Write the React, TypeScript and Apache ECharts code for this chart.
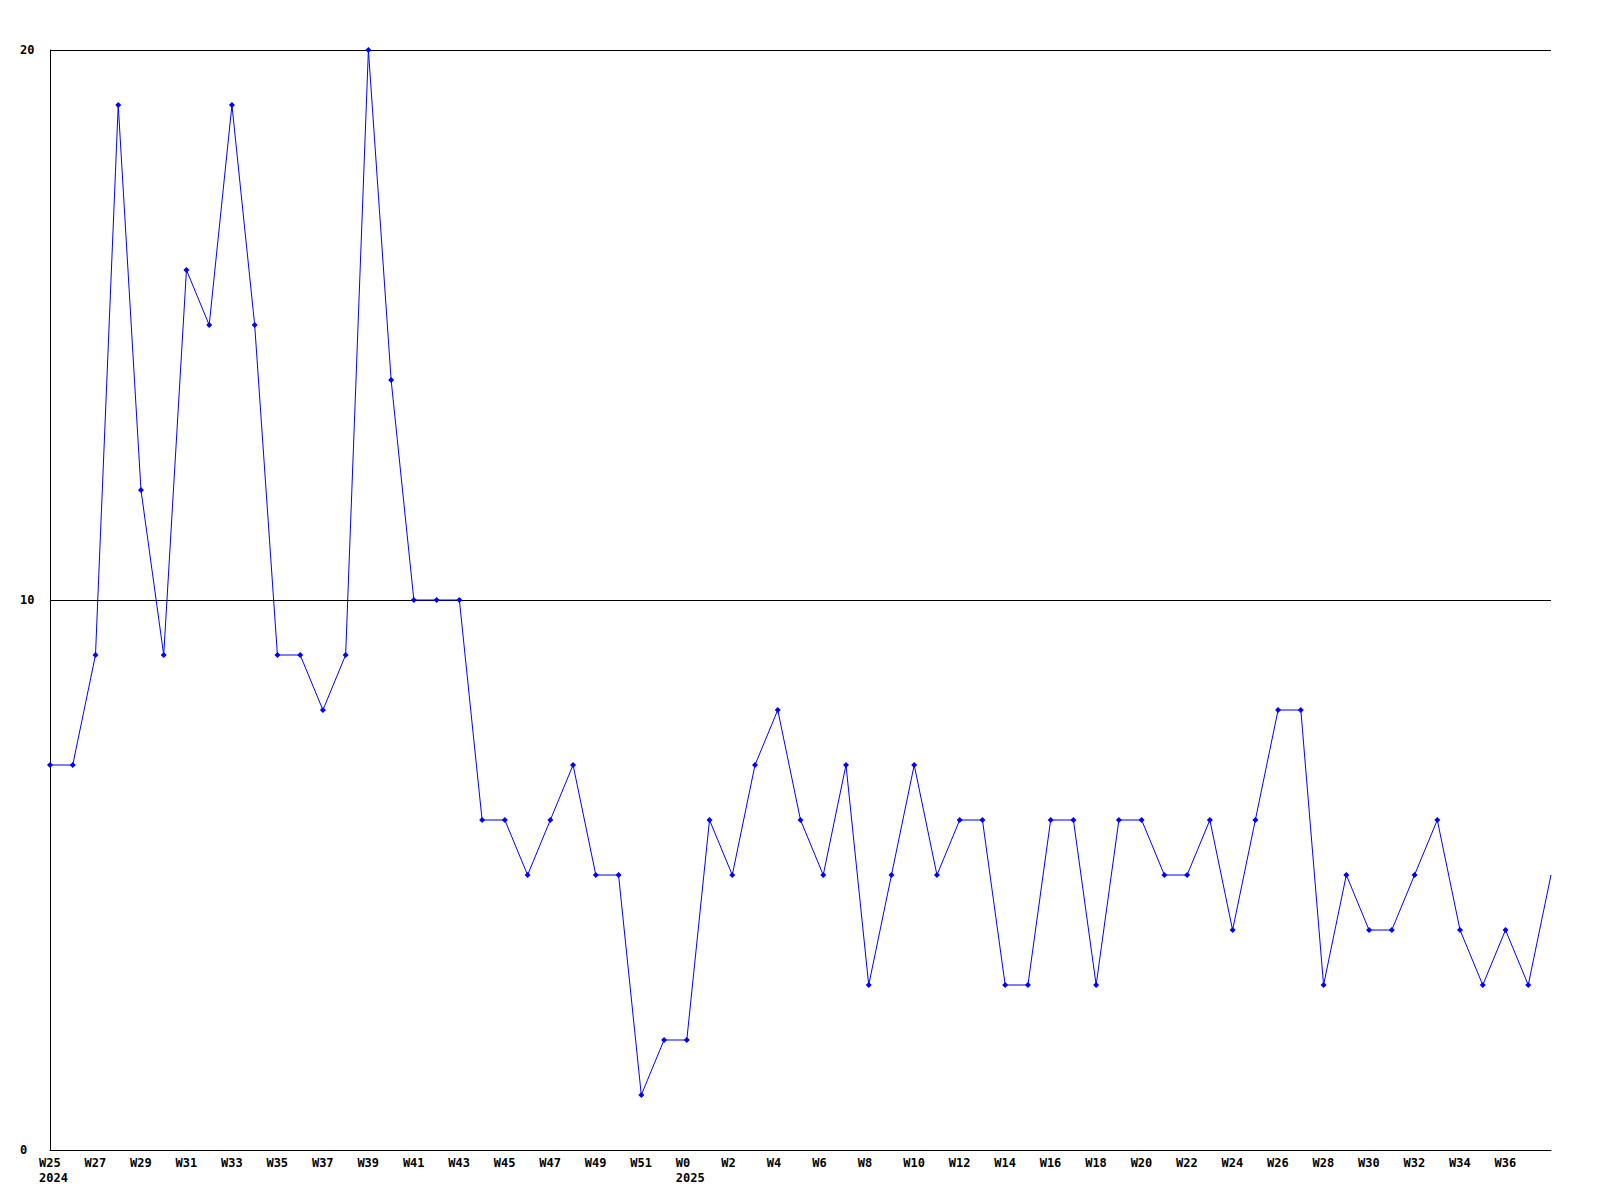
import React, { useEffect, useRef } from "react";
import * as echarts from "echarts";

const weeks: string[] = [
  "W25","W26","W27","W28","W29","W30","W31","W32","W33","W34","W35","W36","W37","W38","W39","W40","W41","W42","W43","W44","W45","W46","W47","W48","W49","W50","W51","W52",
  "W0","W1","W2","W3","W4","W5","W6","W7","W8","W9","W10","W11","W12","W13","W14","W15","W16","W17","W18","W19","W20","W21","W22","W23","W24","W25","W26","W27","W28","W29","W30","W31","W32","W33","W34","W35","W36","W37","W38",
];

const yearLabels: Record<number, string> = { 0: "2024", 28: "2025" };

const values: number[] = [
  7, 7, 9, 19, 12, 9, 16, 15, 19, 15, 9, 9, 8, 9, 20, 14, 10, 10, 10, 6, 6, 5, 6, 7, 5, 5, 1, 2,
  2, 6, 5, 7, 8, 6, 5, 7, 3, 5, 7, 5, 6, 6, 3, 3, 6, 6, 3, 6, 6, 5, 5, 6, 4, 6, 8, 8, 3, 5, 4, 4, 5, 6, 4, 3, 4, 3, 5,
];

const yTicks = { min: 0, max: 20, interval: 10 };

export default function App() {
  const ref = useRef<HTMLDivElement>(null);
  useEffect(() => {
    document.body.style.margin = "0";
    if (!ref.current) return;
    const chart = echarts.init(ref.current, null, { renderer: "svg" });
    const font = {
      fontFamily: "DejaVu Sans Mono",
      fontWeight: "bold" as const,
      fontSize: 12,
      color: "#000",
    };
    const lastIdx = weeks.length - 1;
    const seriesData = values.map((v, i) =>
      i === lastIdx ? { value: v, symbol: "none" } : v
    );
    chart.setOption({
      animation: false,
      backgroundColor: "#fff",
      grid: { left: 50, right: 49, top: 50, bottom: 50, containLabel: false },
      xAxis: {
        type: "category",
        data: weeks,
        boundaryGap: false,
        axisLine: { show: true, lineStyle: { color: "#000", width: 1 } },
        axisTick: { show: false },
        splitLine: { show: false },
        axisLabel: {
          ...font,
          interval: (i: number) => i % 2 === 0 && i < lastIdx,
          margin: 5,
          align: "left",
          verticalAlign: "top",
          lineHeight: 15,
          padding: [0, 0, 0, -11],
          hideOverlap: false,
          formatter: (v: string, i: number) =>
            yearLabels[i] ? v + "\n" + yearLabels[i] : v,
        },
      },
      yAxis: {
        type: "value",
        min: yTicks.min,
        max: yTicks.max,
        interval: yTicks.interval,
        axisLine: { show: true, lineStyle: { color: "#000", width: 1 } },
        axisTick: { show: false },
        splitLine: { show: true, lineStyle: { color: "#000", width: 1 } },
        axisLabel: { ...font, align: "left", margin: 30 },
      },
      series: [
        {
          type: "line",
          data: seriesData,
          symbol: "diamond",
          symbolSize: 6,
          showAllSymbol: true,
          lineStyle: { color: "#0000ff", width: 1 },
          itemStyle: { color: "#0000ff" },
          z: 1,
        },
      ],
    });
    return () => chart.dispose();
  }, []);
  return <div ref={ref} style={{ width: 1600, height: 1200 }} />;
}
